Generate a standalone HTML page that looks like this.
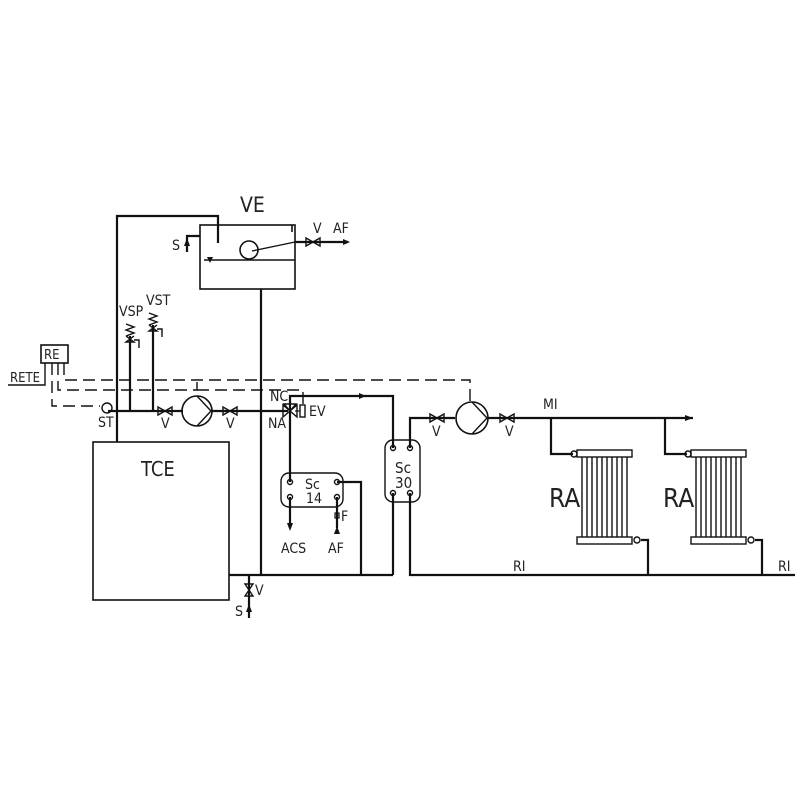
<!DOCTYPE html>
<html><head><meta charset="utf-8"><style>
body{margin:0;background:#fff}
svg{display:block}
text{font-family:"DejaVu Sans Condensed","Liberation Sans Narrow","Liberation Sans",sans-serif;fill:#222}
</style></head><body>
<svg width="800" height="800" viewBox="0 0 800 800" xmlns="http://www.w3.org/2000/svg">
<g stroke="#111" fill="none" stroke-width="2.2">
<rect x="200" y="225" width="95" height="64" stroke-width="1.6"/>
<line x1="204" y1="260" x2="295" y2="260" stroke-width="1.6"/>
<circle cx="249" cy="250" r="9" stroke-width="1.6"/>
<line x1="252" y1="251" x2="295" y2="242" stroke-width="1.4"/>
<line x1="295" y1="242" x2="348" y2="242"/>
<line x1="292" y1="225" x2="292" y2="232" stroke-width="1.6"/>
<polyline points="117,442 117,216 218,216 218,243"/>
<polyline points="200,236 187,236 187,252"/>
<line x1="261" y1="289" x2="261" y2="575"/>
<rect x="93" y="442" width="136" height="158" stroke-width="1.6"/>
<line x1="108" y1="411" x2="183" y2="411"/>
<line x1="212" y1="411" x2="288" y2="411"/>
<line x1="130" y1="411" x2="130" y2="336"/>
<line x1="153" y1="411" x2="153" y2="325"/>
<circle cx="107" cy="408" r="5" stroke-width="1.4"/>
<circle cx="197" cy="411" r="15" stroke-width="1.6"/>
<polyline points="197,396 211,411 197,426" stroke-width="1.4"/>
<polyline points="290,411 290,396 393,396 393,448"/>
<line x1="290" y1="411" x2="290" y2="482"/>
<rect x="300" y="405" width="5" height="12" stroke-width="1.4"/>
<line x1="295" y1="411" x2="300" y2="411" stroke-width="1.2"/>
<rect x="281" y="473" width="62" height="34" rx="8" stroke-width="1.4"/>
<line x1="290" y1="497" x2="290" y2="528"/>
<line x1="337" y1="497" x2="337" y2="528"/>
<rect x="335" y="513" width="4" height="5" stroke-width="1.2"/>
<polyline points="337,482 361,482 361,575"/>
<rect x="385" y="440" width="35" height="62" rx="8" stroke-width="1.4"/>
<line x1="393" y1="493" x2="393" y2="575"/>
<polyline points="410,448 410,418 455,418"/>
<line x1="229" y1="575" x2="393" y2="575"/>
<polyline points="410,493 410,575 795,575"/>
<line x1="249" y1="575" x2="249" y2="618"/>
<circle cx="472" cy="418" r="16" stroke-width="1.6"/>
<polyline points="472,402 487,418 472,434" stroke-width="1.4"/>
<line x1="488" y1="418" x2="693" y2="418"/>
<polyline points="551,418 551,454 573,454"/>
<polyline points="665,418 665,454 687,454"/>
<polyline points="641,540 648,540 648,575"/>
<polyline points="755,540 762,540 762,575"/>
</g>
<g stroke="#111" stroke-width="1.4" fill="none">
<path d="M158,407 L172,415 L172,407 L158,415 Z"/>
<path d="M223,407 L237,415 L237,407 L223,415 Z"/>
<path d="M306,238 L320,246 L320,238 L306,246 Z"/>
<path d="M430,414 L444,422 L444,414 L430,422 Z"/>
<path d="M500,414 L514,422 L514,414 L500,422 Z"/>
<path d="M245,584 L253,596 L245,596 L253,584 Z"/>
<path d="M283,405 L290,411 L283,417 Z M297,405 L290,411 L297,417 Z M284,404 L290,411 L296,404 Z"/>
<path d="M126,324 l8,3 l-8,3 l8,3 l-8,3 M126,336 l8,6 l-8,0 l8,-6 M134,340 h5 v8"/>
<path d="M149,313 l8,3 l-8,3 l8,3 l-8,3 M149,325 l8,6 l-8,0 l8,-6 M157,329 h5 v8"/>
<rect x="577" y="450" width="55" height="7"/>
<rect x="577" y="537" width="55" height="7"/>
<rect x="691" y="450" width="55" height="7"/>
<rect x="691" y="537" width="55" height="7"/>
<path d="M582,457V537M587,457V537M592,457V537M597,457V537M602,457V537M607,457V537M612,457V537M617,457V537M622,457V537M627,457V537"/>
<path d="M696,457V537M701,457V537M706,457V537M711,457V537M716,457V537M721,457V537M726,457V537M731,457V537M736,457V537M741,457V537"/>
<circle cx="574" cy="454" r="3"/><circle cx="688" cy="454" r="3"/>
<circle cx="637" cy="540" r="3"/><circle cx="751" cy="540" r="3"/>
<circle cx="393" cy="448" r="2.5"/><circle cx="410" cy="448" r="2.5"/>
<circle cx="393" cy="493" r="2.5"/><circle cx="410" cy="493" r="2.5"/>
<circle cx="290" cy="482" r="2.5"/><circle cx="337" cy="482" r="2.5"/>
<circle cx="290" cy="497" r="2.5"/><circle cx="337" cy="497" r="2.5"/>
<rect x="41" y="345" width="27" height="18" stroke-width="1.6"/>
<polyline points="8,385 45,385 45,363"/>
</g>
<g stroke="#111" stroke-width="1.4" fill="none" stroke-dasharray="12,6">
<polyline points="64,363 64,380 470,380 470,402"/>
<polyline points="58,363 58,390 197,390 197,380"/>
<polyline points="197,390 303,390 303,405"/>
<polyline points="52,363 52,406 100,406"/>
</g>
<g fill="#111">
<path d="M350,242 l-7,-3 v6 z"/>
<path d="M693,418 l-8,-3 v6 z"/>
<path d="M290,531 l-3,-8 h6 z"/>
<path d="M337,526 l-3,8 h6 z"/>
<path d="M249,604 l-3,8 h6 z"/>
<path d="M187,238 l-3,8 h6 z"/>
<path d="M210,263 l-3,-6 h6 z"/>
<path d="M366,396 l-7,-3 v6 z"/>
</g>
<g font-size="14">
<text x="240" y="212" font-size="21">VE</text>
<text x="313" y="233">V</text><text x="333" y="233">AF</text>
<text x="172" y="250">S</text>
<text x="119" y="316">VSP</text><text x="146" y="305">VST</text>
<text x="44" y="359" font-size="13">RE</text>
<text x="10" y="382" font-size="13">RETE</text>
<text x="98" y="427">ST</text>
<text x="161" y="428">V</text><text x="226" y="428">V</text>
<text x="270" y="401">NC</text><text x="268" y="428">NA</text>
<text x="309" y="416">EV</text>
<text x="141" y="476" font-size="20">TCE</text>
<text x="305" y="489" font-size="14">Sc</text><text x="306" y="503" font-size="14">14</text>
<text x="395" y="473" font-size="15">Sc</text><text x="395" y="488" font-size="15">30</text>
<text x="341" y="521">F</text>
<text x="281" y="553">ACS</text><text x="328" y="553">AF</text>
<text x="255" y="595">V</text><text x="235" y="616">S</text>
<text x="432" y="436">V</text><text x="505" y="436">V</text>
<text x="543" y="409">MI</text>
<text x="549" y="507" font-size="26">RA</text>
<text x="663" y="507" font-size="26">RA</text>
<text x="513" y="571">RI</text><text x="778" y="571">RI</text>
</g>
</svg>
</body></html>
